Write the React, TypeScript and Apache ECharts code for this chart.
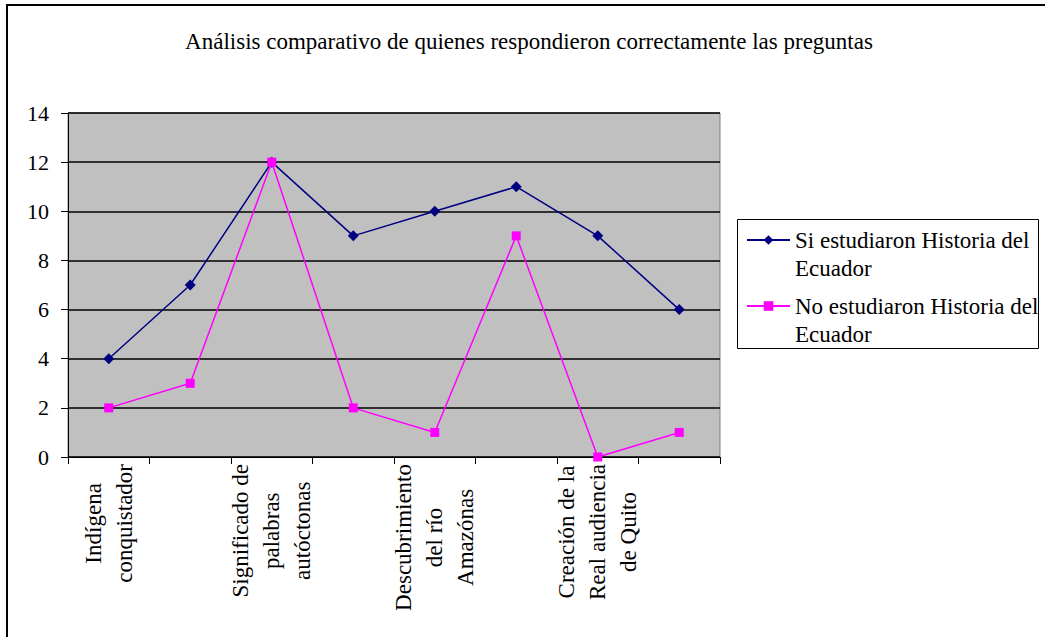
import React, { useEffect, useRef } from 'react';
import * as echarts from 'echarts';

const chartTitle = 'Análisis comparativo de quienes respondieron correctamente las preguntas';
const categories = [
  'Indígena\nconquistador',
  '',
  'Significado de\npalabras\nautóctonas',
  '',
  'Descubrimiento\ndel río\nAmazónas',
  '',
  'Creación de la\nReal audiencia\nde Quito',
  '',
];
const seriesNames = ['Si estudiaron Historia del\nEcuador', 'No estudiaron Historia del\nEcuador'];
const siValues = [4, 7, 12, 9, 10, 11, 9, 6];
const noValues = [2, 3, 12, 2, 1, 9, 0, 1];
const yMin = 0;
const yMax = 14;
const yInterval = 2;

const FONT = 'Liberation Serif, Times New Roman, serif';
const XFS = 23;
const XLH = 31;

function measure(text: string, size: number): number {
  const ctx = document.createElement('canvas').getContext('2d');
  if (!ctx) return text.length * size * 0.45;
  ctx.font = `${size}px Liberation Serif`;
  return ctx.measureText(text).width;
}

export default function App() {
  const ref = useRef<HTMLDivElement>(null);
  useEffect(() => {
    document.body.style.margin = '0';
    // Rotated labels with centred lines; a right padding equal to the widest line
    // moves each block so that it starts just below the axis.
    const axisCategories = categories.map((cat) => {
      if (!cat) return cat;
      const maxW = Math.max(...cat.split('\n').map((l) => measure(l, XFS)));
      return { value: cat, textStyle: { align: 'center', padding: [0, maxW, 0, 0] } };
    });

    const chart = echarts.init(ref.current!, null, { renderer: 'svg' });
    chart.setOption({
      animation: false,
      backgroundColor: '#ffffff',
      title: {
        text: chartTitle,
        left: 524,
        textAlign: 'center',
        top: 25,
        textStyle: { fontFamily: FONT, fontSize: 23, fontWeight: 'normal', color: '#000' },
      },
      graphic: [
        {
          type: 'rect',
          shape: { x: 7, y: 5, width: 1100, height: 700 },
          style: { fill: 'none', stroke: '#000', lineWidth: 2 },
          silent: true,
        },
        {
          type: 'rect',
          shape: { x: 737.5, y: 219.5, width: 301, height: 129 },
          style: { fill: '#fff', stroke: '#000', lineWidth: 1 },
          silent: true,
          z: 0,
        },
      ],
      legend: {
        orient: 'vertical',
        left: 746,
        top: 198,
        padding: 0,
        itemWidth: 43,
        itemHeight: 12,
        itemGap: -18,
        z: 10,
        formatter: (name: string) => '\n' + name,
        textStyle: {
          fontFamily: FONT,
          fontSize: 23,
          color: '#000',
          lineHeight: 28,
        },
        data: seriesNames,
      },
      grid: {
        left: 68,
        top: 113,
        width: 652,
        height: 344,
        show: true,
        backgroundColor: '#C0C0C0',
        borderColor: '#808080',
        borderWidth: 1,
        containLabel: false,
        outerBoundsMode: 'none',
      },
      xAxis: {
        type: 'category',
        data: axisCategories,
        boundaryGap: true,
        axisLine: { lineStyle: { color: '#000', width: 1 } },
        axisTick: { show: true, interval: 0, length: 7, lineStyle: { color: '#000' } },
        axisLabel: {
          interval: 1,
          rotate: 90,
          align: 'center',
          margin: 7,
          color: '#000',
          fontFamily: FONT,
          fontSize: XFS,
          lineHeight: XLH,
        },
        splitLine: { show: false },
      },
      yAxis: {
        type: 'value',
        min: yMin,
        max: yMax,
        interval: yInterval,
        axisLine: { show: true, lineStyle: { color: '#000', width: 1 } },
        axisTick: { show: true, length: 7, lineStyle: { color: '#000' } },
        axisLabel: { color: '#000', fontFamily: FONT, fontSize: 22, margin: 19 },
        splitLine: { show: true, lineStyle: { color: '#000', width: 1.5 } },
      },
      series: [
        {
          name: seriesNames[0],
          type: 'line',
          data: siValues,
          symbol: 'diamond',
          symbolSize: 11,
          itemStyle: { color: '#000080' },
          lineStyle: { color: '#000080', width: 1.5 },
          z: 3,
        },
        {
          name: seriesNames[1],
          type: 'line',
          data: noValues,
          symbol: 'rect',
          symbolSize: 9,
          itemStyle: { color: '#FF00FF' },
          lineStyle: { color: '#FF00FF', width: 1.5 },
          z: 4,
        },
      ],
    });
    return () => chart.dispose();
  }, []);
  return <div ref={ref} style={{ width: 1045, height: 637 }} />;
}
